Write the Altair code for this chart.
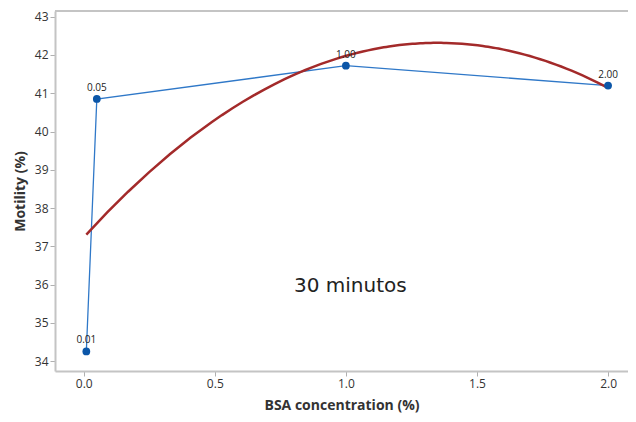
import altair as alt
import pandas as pd

bsa = [0.01, 0.05, 1.0, 2.0]
motility = [34.25, 40.85, 41.72, 41.2]
labels = ["0.01", "0.05", "1.00", "2.00"]
x_ticks = [0.0, 0.5, 1.0, 1.5, 2.0]
y_ticks = [34, 35, 36, 37, 38, 39, 40, 41, 42, 43]
note = "30 minutos"

df = pd.DataFrame({"x": bsa, "y": motility, "label": labels})

W, H = 573, 360
xs = alt.Scale(domain=[-0.1095, 2.076], nice=False, zero=False)
ys = alt.Scale(domain=[33.74, 43.15], nice=False, zero=False)

font = "Open Sans"
frame = "#c4c4c4"
xax = alt.Axis(values=x_ticks, tickCount=20, format=".1f", title="BSA concentration (%)", grid=False,
               domain=True, domainColor=frame, domainWidth=2, labelOverlap=False,
               tickColor="#b0b0b0", tickSize=5, labelFontSize=12,
               labelColor="#333333", labelFont=font, titleFont=font, titleFontSize=14,
               titleFontWeight="bold", titleColor="#333333", titlePadding=9, labelPadding=2)
yax = alt.Axis(values=y_ticks, tickCount=20, format="d", title="Motility (%)", grid=False,
               domain=True, domainColor=frame, domainWidth=2, labelOverlap=False,
               tickColor="#b0b0b0", tickSize=5, labelFontSize=12, labelColor="#333333",
               labelFont=font, titleFont=font, titleFontSize=14, titleFontWeight="bold",
               titleColor="#333333", titlePadding=7, labelPadding=2)

base = alt.Chart(df)

line = base.mark_line(color="#2f78c8", strokeWidth=1.3).encode(
    x=alt.X("x:Q", scale=xs, axis=xax), y=alt.Y("y:Q", scale=ys, axis=yax))
pts = base.mark_circle(color="#0b56a8", size=60, opacity=1).encode(x="x:Q", y="y:Q")
txt = base.mark_text(dy=-11, fontSize=10, font=font, color="#222222").encode(
    x="x:Q", y="y:Q", text="label:N")
fit = base.transform_regression("x", "y", method="poly", order=2, extent=[0.01, 2.0]).mark_line(
    color="#a32a2a", strokeWidth=2.5).encode(x="x:Q", y="y:Q")
ann = alt.Chart(pd.DataFrame({"x": [1.017], "y": [35.96], "t": [note]})).mark_text(
    fontSize=20, font="DejaVu Sans", color="#222222", baseline="middle").encode(
    x="x:Q", y="y:Q", text="t:N")
top = alt.Chart(pd.DataFrame({"a": [0]})).mark_rule(color=frame, strokeWidth=2).encode(
    x=alt.value(0), x2=alt.value(W), y=alt.value(0))

chart = alt.layer(line, fit, pts, txt, ann, top).properties(
    width=W, height=H,
    autosize=alt.AutoSizeParams(type="none"),
    padding={"left": 47, "top": 3, "right": 0, "bottom": 43},
).configure_view(stroke=None)

chart.save("out.html", embed_options={"renderer": "svg", "actions": False})
